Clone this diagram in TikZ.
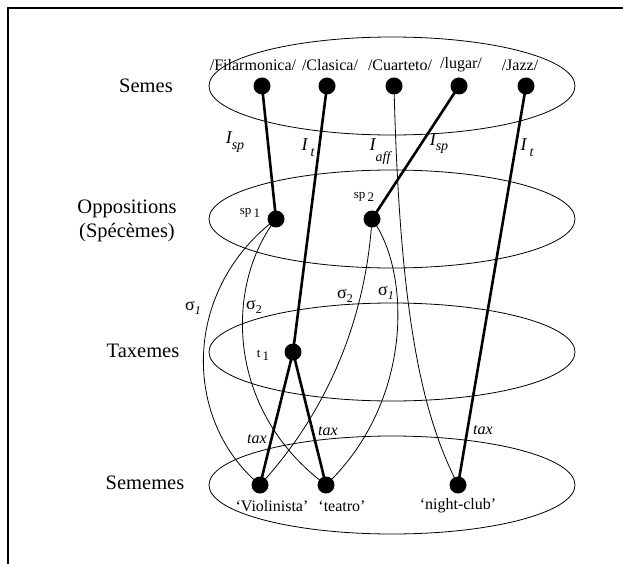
\documentclass[tikz,border=0pt]{standalone}
\usepackage{fontspec}
\setmainfont{Liberation Serif}
\begin{document}
\begin{tikzpicture}[x=1pt,y=-1pt,
  dot/.style={circle,fill=black,inner sep=0pt,minimum size=17pt},
  layer/.style={line width=0.8pt},
  heavy/.style={line width=2.6pt},
  light/.style={line width=0.8pt},
  rowlabel/.style={font=\fontsize{20.5}{24}\selectfont,align=center},
  semlabel/.style={font=\fontsize{16}{19}\selectfont,inner sep=0pt},
  rel/.style={font=\fontsize{18}{20}\selectfont\itshape,inner sep=0pt},
  sig/.style={font=\fontsize{18}{20}\selectfont,inner sep=0pt},
  tiny/.style={font=\fontsize{13}{15}\selectfont,inner sep=0pt},
  taxl/.style={font=\fontsize{16}{18}\selectfont\itshape,inner sep=0pt}]

\useasboundingbox (0,0) rectangle (623,564);
% frame
\draw[line width=1.2pt] (623,8) -- (8,8) -- (8,564);

% the four levels
\draw[layer] (392,86)  ellipse [x radius=183, y radius=49];
\draw[layer] (392,219) ellipse [x radius=183, y radius=49];
\draw[layer] (392,352) ellipse [x radius=183, y radius=49];
\draw[layer] (392,485) ellipse [x radius=183, y radius=49];

\node[rowlabel] (lsemes) at (146,86) {Semes};
\node[rowlabel] (lopp) at (127,221) {Oppositions\\(Spécèmes)};
\node[rowlabel] (ltax) at (143,351) {Taxemes};
\node[rowlabel] (lsem) at (145,483) {Sememes};

% semes
\node[dot] (fil) at (262,86) {};
\node[dot] (cla) at (327,86) {};
\node[dot] (cua) at (394,86) {};
\node[dot] (lug) at (459,86) {};
\node[dot] (jaz) at (526,86) {};
\node[semlabel] (tfil) at (253,65) {/Filarmonica/};
\node[semlabel] (tcla) at (330,65) {/Clasica/};
\node[semlabel] (tcua) at (400,65) {/Cuarteto/};
\node[semlabel] (tlug) at (461,65) {/lugar/};
\node[semlabel] (tjaz) at (520,65) {/Jazz/};

% oppositions
\node[dot] (sp1) at (276,219) {};
\node[dot] (sp2) at (372,219) {};
\node[tiny] (tsp1) at (250,213) {sp\,\raisebox{-3pt}{1}};
\node[tiny] (tsp2) at (364,197) {sp\,\raisebox{-3pt}{2}};

% taxeme
\node[dot] (t1) at (293,352) {};
\node[tiny] (tt1) at (263,355) {t\,\raisebox{-3pt}{1}};

% sememes
\node[dot] (vio) at (260,485) {};
\node[dot] (tea) at (326,485) {};
\node[dot] (nig) at (458,485) {};
\node[semlabel] (tvio) at (272,506) {‘Violinista’};
\node[semlabel] (ttea) at (342,506) {‘teatro’};
\node[semlabel] (tnig) at (458,506) {‘night-club’};

% inherence relations
\draw[heavy] (fil.center) -- (sp1.center);
\draw[heavy] (cla.center) -- (t1.center);
\draw[heavy] (lug.center) -- (sp2.center);
\draw[heavy] (jaz.center) -- (nig.center);
\draw[light] (cua.center) .. controls (400,330) and (425,420) .. (nig.center);

% taxeme to sememes
\draw[heavy] (t1.center) -- (vio.center);
\draw[heavy] (t1.center) -- (tea.center);

% specemes to sememes
\draw[light] (sp1.center) .. controls (182,290) and (182,420) .. (vio.center);
\draw[light] (sp1.center) .. controls (225,285) and (225,410) .. (tea.center);
\draw[light] (sp2.center) .. controls (365,330) and (320,420) .. (vio.center);
\draw[light] (sp2.center) .. controls (410,270) and (415,400) .. (tea.center);

% relation labels
\node[rel] (isp1) at (235,142) {I\raisebox{-6pt}{\fontsize{14}{14}\selectfont sp}};
\node[rel] (it1) at (308,148) {I\,\raisebox{-6pt}{\fontsize{14}{14}\selectfont t}};
\node[rel] (iaff) at (380,152) {I\raisebox{-11pt}{\fontsize{14}{14}\selectfont aff}};
\node[rel] (isp2) at (439,144) {I\raisebox{-5pt}{\fontsize{14}{14}\selectfont sp}};
\node[rel] (it2) at (527,148) {I\,\raisebox{-6pt}{\fontsize{14}{14}\selectfont t}};

\node[sig] (s1a) at (193,308) {σ\raisebox{-4pt}{\fontsize{12}{12}\selectfont\itshape 1}};
\node[sig] (s2a) at (254,307) {σ\raisebox{-4pt}{\fontsize{12}{12}\selectfont 2}};
\node[sig] (s2b) at (345,296) {σ\raisebox{-4pt}{\fontsize{12}{12}\selectfont 2}};
\node[sig] (s1b) at (386,293) {σ\raisebox{-4pt}{\fontsize{12}{12}\selectfont\itshape 1}};

\node[taxl] (tx1) at (257,439) {tax};
\node[taxl] (tx2) at (328,431) {tax};
\node[taxl] (tx3) at (483,430) {tax};
\end{tikzpicture}
\end{document}
